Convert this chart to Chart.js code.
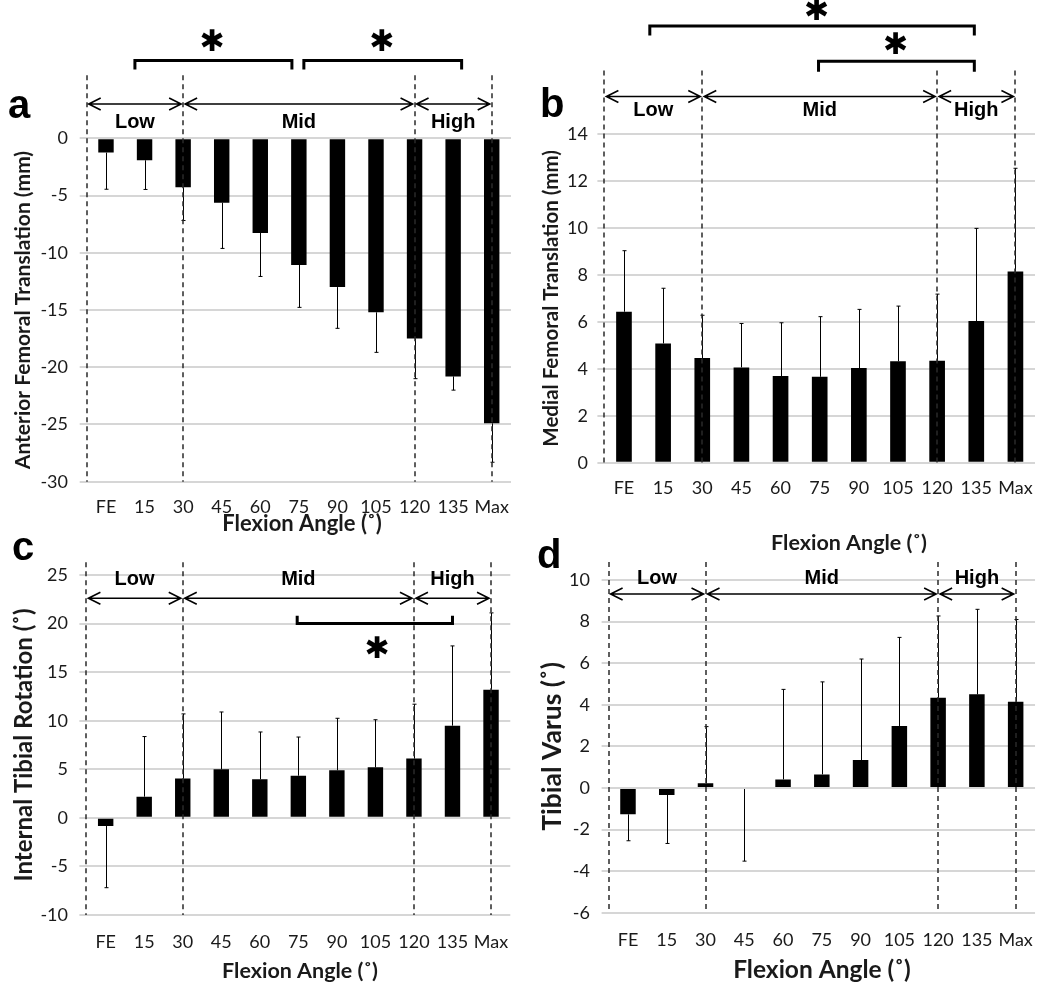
<!DOCTYPE html>
<html>
<head>
<meta charset="utf-8">
<script src="https://cdn.jsdelivr.net/npm/chart.js@4.4.1/dist/chart.umd.min.js"></script>
<style>
  body { margin: 0; background: #fff; }
  #fig { position: relative; width: 1050px; height: 990px; overflow: hidden; }
  #fig canvas { position: absolute; }
</style>
</head>
<body>
<div id="fig">
  <canvas id="chartA" width="525" height="545" style="left:0px;top:0px"></canvas>
  <canvas id="chartB" width="530" height="560" style="left:520px;top:0px"></canvas>
  <canvas id="chartC" width="525" height="460" style="left:0px;top:530px"></canvas>
  <canvas id="chartD" width="530" height="460" style="left:520px;top:530px"></canvas>
</div>
<script>
// categories
const angleLabels = ["FE", "15", "30", "45", "60", "75", "90", "105", "120", "135", "Max"];

// a) anterior femoral translation (mm)
const anteriorMean = [-1.25, -1.92, -4.28, -5.62, -8.27, -11.07, -13.0, -15.2, -17.5, -20.8, -24.9];
const anteriorSD = [3.2, 2.55, 2.9, 4.0, 3.8, 3.7, 3.6, 3.5, 3.5, 1.2, 3.4];

// b) medial femoral translation (mm)
const medialMean = [6.43, 5.08, 4.46, 4.06, 3.69, 3.66, 4.03, 4.32, 4.34, 6.03, 8.14];
const medialSD = [2.6, 2.35, 1.82, 1.87, 2.27, 2.56, 2.5, 2.35, 2.84, 3.95, 4.4];

// c) internal tibial rotation (deg)
const rotationMean = [-0.84, 2.18, 4.04, 5.0, 3.97, 4.34, 4.9, 5.2, 6.1, 9.49, 13.2];
const rotationSD = [6.35, 6.19, 6.66, 5.9, 4.87, 3.98, 5.35, 4.9, 5.6, 8.21, 7.9];

// d) tibial varus (deg)
const varusMean = [-1.27, -0.34, 0.22, -0.05, 0.41, 0.65, 1.34, 2.98, 4.34, 4.5, 4.15];
const varusSD = [1.27, 2.33, 2.73, 3.47, 4.33, 4.45, 4.86, 4.26, 3.93, 4.09, 3.95];

// flexion phases (bounds as category index: left edge, 30, 120, Max)
const phaseNames = ["Low", "Mid", "High"];
const phaseBounds = [-0.5, 2, 8, 10];

const tickFont = { family: "Lato", size: 18 };
const textColor = "#1a1a1a";

// draws error bars, phase lines/arrows, significance brackets, letters
const panelDecor = {
  id: "panelDecor",
  afterDatasetsDraw(chart, args, opts) {
    const ctx = chart.ctx;
    const xs = chart.scales.x, ys = chart.scales.y;
    const area = chart.chartArea;
    const meta = chart.getDatasetMeta(0);
    const vals = chart.data.datasets[0].data;
    ctx.save();

    // error bars (one-sided, away from zero)
    ctx.strokeStyle = "#000";
    ctx.lineWidth = 1;
    meta.data.forEach((bar, i) => {
      const m = vals[i];
      const s = opts.sd[i];
      const px = Math.round(bar.x) + 0.5;
      const yEnd = ys.getPixelForValue(m < 0 ? m - s : m + s);
      ctx.beginPath();
      ctx.moveTo(px, bar.y);
      ctx.lineTo(px, yEnd);
      ctx.moveTo(px - 2, yEnd);
      ctx.lineTo(px + 2, yEnd);
      ctx.stroke();
    });

    // phase dashed lines
    const dashTop = ys.getPixelForValue(opts.dashTop);
    ctx.strokeStyle = "#2a2a2a";
    ctx.lineWidth = 1.5;
    ctx.setLineDash([5, 4]);
    phaseBounds.forEach((b) => {
      const px = Math.round(xs.getPixelForValue(b));
      ctx.beginPath();
      ctx.moveTo(px, dashTop);
      ctx.lineTo(px, area.bottom);
      ctx.stroke();
    });
    ctx.setLineDash([]);

    // double arrows + phase labels
    const ay = ys.getPixelForValue(opts.arrowY);
    const ly = ys.getPixelForValue(opts.labelY);
    ctx.strokeStyle = "#000";
    ctx.lineWidth = 1.6;
    ctx.fillStyle = "#000";
    ctx.font = "bold 20px 'Liberation Sans', Arial, sans-serif";
    ctx.textAlign = "center";
    ctx.textBaseline = "middle";
    for (let k = 0; k < phaseNames.length; k++) {
      const x1 = xs.getPixelForValue(phaseBounds[k]) + 2;
      const x2 = xs.getPixelForValue(phaseBounds[k + 1]) - 2;
      ctx.beginPath();
      ctx.moveTo(x1, ay);
      ctx.lineTo(x2, ay);
      ctx.moveTo(x1 + 12, ay - 6);
      ctx.lineTo(x1, ay);
      ctx.lineTo(x1 + 12, ay + 6);
      ctx.moveTo(x2 - 12, ay - 6);
      ctx.lineTo(x2, ay);
      ctx.lineTo(x2 - 12, ay + 6);
      ctx.stroke();
      const mid = (phaseBounds[k] + phaseBounds[k + 1]) / 2;
      ctx.fillText(phaseNames[k], xs.getPixelForValue(mid), ly);
    }

    // significance brackets
    ctx.lineWidth = 3;
    ctx.lineJoin = "miter";
    (opts.brackets || []).forEach((b) => {
      const x1 = xs.getPixelForValue(b.from);
      const x2 = xs.getPixelForValue(b.to);
      const yb = ys.getPixelForValue(b.y);
      const yt = ys.getPixelForValue(b.tick);
      ctx.beginPath();
      ctx.moveTo(x1, yt);
      ctx.lineTo(x1, yb);
      ctx.lineTo(x2, yb);
      ctx.lineTo(x2, yt);
      ctx.stroke();
      ctx.font = "bold 30px 'DejaVu Sans', sans-serif";
      ctx.fillText("\u2731", xs.getPixelForValue(b.starX), ys.getPixelForValue(b.starY));
    });

    // panel letter
    ctx.textAlign = "left";
    ctx.textBaseline = "alphabetic";
    ctx.font = "bold 40px 'Liberation Sans', Arial, sans-serif";
    ctx.fillText(opts.letter, opts.letterPos[0], opts.letterPos[1]);

    // x axis title
    ctx.textAlign = "center";
    ctx.textBaseline = "middle";
    ctx.fillStyle = textColor;
    ctx.font = "bold " + opts.xTitleSize + "px Lato, sans-serif";
    ctx.fillText("Flexion Angle (\u02DA)", opts.xTitlePos[0], opts.xTitlePos[1]);
    ctx.restore();
  }
};

function makePanel(p) {
  const canvas = document.getElementById(p.id);
  const W = canvas.width, H = canvas.height;
  const padLeft = 2;
  const yAxisW = p.area.left - padLeft;
  const xAxisH = H - p.area.bottom;
  const titleLH = p.yTitleSize * 1.2;
  return new Chart(canvas.getContext("2d"), {
    type: "bar",
    data: {
      labels: angleLabels,
      datasets: [{
        data: p.mean,
        backgroundColor: "#000",
        borderWidth: 0,
        barPercentage: 0.4,
        categoryPercentage: 1.0
      }]
    },
    options: {
      responsive: false,
      animation: false,
      layout: { padding: { left: padLeft, top: p.area.top, right: W - p.area.right, bottom: 0 } },
      plugins: {
        legend: { display: false },
        tooltip: { enabled: false },
        panelDecor: {
          sd: p.sd,
          letter: p.letter,
          letterPos: p.letterPos,
          xTitlePos: p.xTitlePos,
          xTitleSize: p.xTitleSize,
          dashTop: p.dashTop,
          arrowY: p.arrowY,
          labelY: p.labelY,
          brackets: p.brackets
        }
      },
      scales: {
        x: {
          grid: { display: false, drawTicks: false },
          border: { display: false },
          ticks: { font: tickFont, color: textColor, padding: p.xLabelGap - tickFont.size * 0.6, maxRotation: 0, autoSkip: false },
          afterFit(s) { s.height = xAxisH; }
        },
        y: {
          min: p.yMin,
          max: p.yMax,
          ticks: { stepSize: p.yStep, font: tickFont, color: textColor, padding: p.area.left - p.yLabelRight - 7 },
          grid: { color: "#d6d6d6", lineWidth: 2, drawTicks: true, tickLength: 7 },
          border: { display: false },
          title: {
            display: true,
            text: p.yTitle,
            color: textColor,
            font: { family: "Lato", size: p.yTitleSize, weight: "bold" },
            padding: { top: Math.max(0, p.yTitleX - padLeft - titleLH / 2), bottom: 0 }
          },
          afterFit(s) { s.width = yAxisW; }
        }
      }
    },
    plugins: [panelDecor]
  });
}

const panels = [
  {
    id: "chartA", letter: "a", mean: anteriorMean, sd: anteriorSD,
    yTitle: "Anterior Femoral Translation (mm)", yTitleSize: 21, yTitleX: 23,
    yMin: -30, yMax: 0, yStep: 5,
    area: { left: 86.7, right: 511, top: 138.3, bottom: 481.7 },
    yLabelRight: 68, xLabelGap: 25.3,
    letterPos: [8, 118], xTitlePos: [302, 524], xTitleSize: 22,
    dashTop: 5.5, arrowY: 3.0, labelY: 1.4,
    brackets: [
      { from: 0.75, to: 4.82, y: 6.8, tick: 6.0, starX: 2.75, starY: 8.3 },
      { from: 5.13, to: 9.22, y: 6.8, tick: 6.0, starX: 7.15, starY: 8.3 }
    ]
  },
  {
    id: "chartB", letter: "b", mean: medialMean, sd: medialSD,
    yTitle: "Medial Femoral Translation (mm)", yTitleSize: 20.5, yTitleX: 31,
    yMin: 0, yMax: 14, yStep: 2,
    area: { left: 84.4, right: 515, top: 134, bottom: 462.7 },
    yLabelRight: 68, xLabelGap: 25.6,
    letterPos: [20, 117], xTitlePos: [329, 543], xTitleSize: 21.5,
    dashTop: 16.7, arrowY: 15.6, labelY: 15.0,
    brackets: [
      { from: 0.66, to: 8.95, y: 18.6, tick: 18.2, starX: 4.92, starY: 19.2 },
      { from: 4.97, to: 8.95, y: 17.1, tick: 16.65, starX: 6.94, starY: 17.75 }
    ]
  },
  {
    id: "chartC", letter: "c", mean: rotationMean, sd: rotationSD,
    yTitle: "Internal Tibial Rotation (\u02DA)", yTitleSize: 24, yTitleX: 24,
    yMin: -10, yMax: 25, yStep: 5,
    area: { left: 86.4, right: 511.9, top: 45, bottom: 385 },
    yLabelRight: 68, xLabelGap: 27,
    letterPos: [12, 30], xTitlePos: [300, 441], xTitleSize: 21.5,
    dashTop: 26.3, arrowY: 22.6, labelY: 24.5,
    brackets: [
      { from: 4.97, to: 9.0, y: 20, tick: 20.8, starX: 7.04, starY: 17.3 }
    ]
  },
  {
    id: "chartD", letter: "d", mean: varusMean, sd: varusSD,
    yTitle: "Tibial Varus (\u02DA)", yTitleSize: 26.5, yTitleX: 32,
    yMin: -6, yMax: 10, yStep: 2,
    area: { left: 88.6, right: 515.4, top: 50, bottom: 382.7 },
    yLabelRight: 70, xLabelGap: 27.3,
    letterPos: [17, 38], xTitlePos: [302, 440], xTitleSize: 24.5,
    dashTop: 10.87, arrowY: 9.33, labelY: 10.05,
    brackets: []
  }
];

window.charts = {};
panels.forEach((p) => { window.charts[p.id] = makePanel(p); });
</script>
</body>
</html>
